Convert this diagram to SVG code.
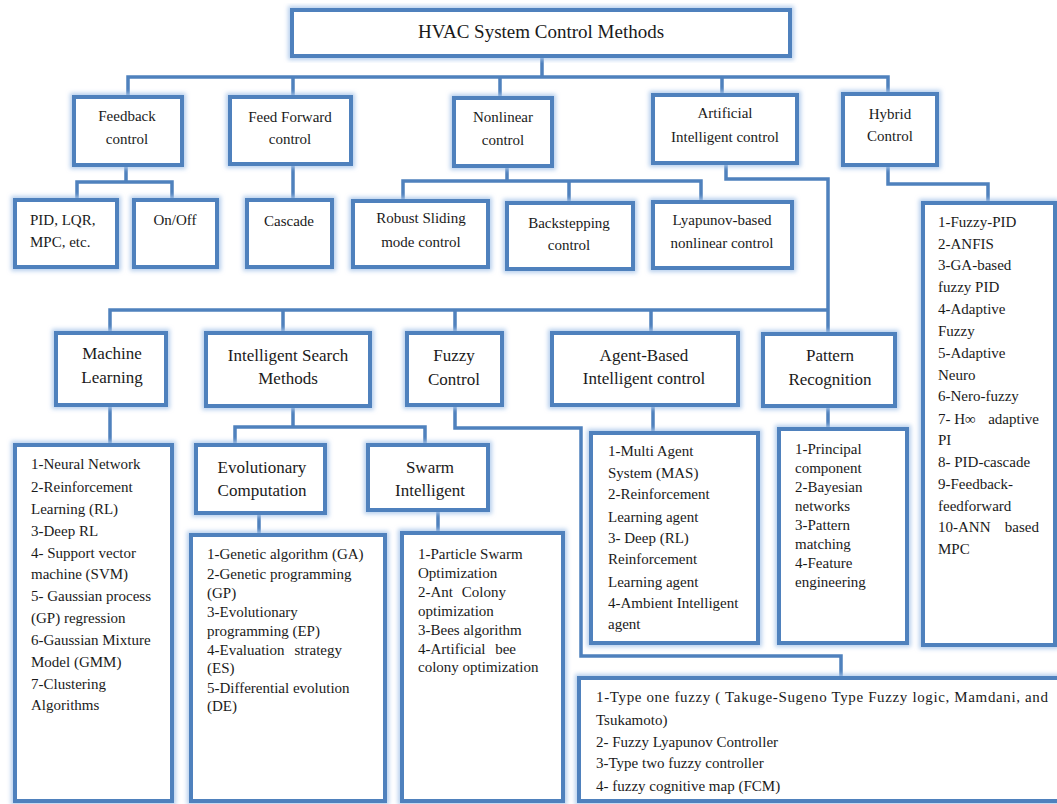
<svg xmlns="http://www.w3.org/2000/svg" width="1057" height="804" viewBox="0 0 1057 804">
<style>
.box{fill:#fff;stroke:#4f81bd;stroke-width:4;filter:url(#glow)}
.ln{fill:none;stroke:#4f81bd;stroke-width:3.5;stroke-linejoin:miter}
text{font-family:"Liberation Serif","Times New Roman",serif;fill:#1a1a1a;dominant-baseline:central}
.c15{font-size:15px;text-anchor:middle}
.c17{font-size:17px;text-anchor:middle}
.l{font-size:15px}
.e{font-size:15px;text-anchor:end}
</style>
<defs>
<filter id="glow" x="-15%" y="-15%" width="130%" height="130%">
<feMorphology in="SourceAlpha" operator="dilate" radius="1.5" result="d"/>
<feGaussianBlur in="d" stdDeviation="2" result="b"/>
<feFlood flood-color="#a9c6ea" flood-opacity="0.85"/>
<feComposite in2="b" operator="in" result="g"/>
<feMerge><feMergeNode in="g"/><feMergeNode in="SourceGraphic"/></feMerge>
</filter>
</defs>
<rect width="1057" height="804" fill="#fff"/>
<g id="connectors">
<path class="ln" d="M542 56V77M128 97V77H888V94M293 77V97M500 77V98M722 77V95"/>
<path class="ln" d="M126 165V182M77 200V182H172V200"/>
<path class="ln" d="M293 165V200"/>
<path class="ln" d="M507 166V181M403 201V181H701V202M569 181V203"/>
<path class="ln" d="M726 163V179H828V334"/>
<path class="ln" d="M888 165V184H988V203"/>
<path class="ln" d="M110 333V310H828M283 310V333M455 310V333M651 310V333"/>
<path class="ln" d="M110 405V445"/>
<path class="ln" d="M293 406V427M235 445V427H425V445"/>
<path class="ln" d="M259 513V535"/>
<path class="ln" d="M438 510V533"/>
<path class="ln" d="M455 405V428H581V656H841V678"/>
<path class="ln" d="M653 405V433"/>
<path class="ln" d="M828 406V429"/>
</g>
<g id="title"><rect class="box" x="292" y="10" width="498" height="46"/><text x="541" y="31" style="font-size:19px;text-anchor:middle">HVAC System Control Methods</text></g>
<g id="feedback"><rect class="box" x="74" y="97" width="108" height="68"/><text class="c15" x="127" y="116">Feedback</text><text class="c15" x="127" y="139">control</text></g>
<g id="feedforward"><rect class="box" x="230" y="97" width="121" height="67"/><text class="c15" x="290" y="117">Feed Forward</text><text class="c15" x="290" y="139">control</text></g>
<g id="nonlinear"><rect class="box" x="454" y="98" width="98" height="68"/><text class="c15" x="503" y="117">Nonlinear</text><text class="c15" x="503" y="140">control</text></g>
<g id="artificial"><rect class="box" x="653" y="95" width="144" height="68"/><text class="c15" x="725" y="113">Artificial</text><text class="c15" x="725" y="137">Intelligent control</text></g>
<g id="hybrid"><rect class="box" x="843" y="94" width="94" height="71"/><text class="c15" x="890" y="114">Hybrid</text><text class="c15" x="890" y="136">Control</text></g>
<g id="pid"><rect class="box" x="15" y="200" width="102" height="67"/><text class="l" x="30" y="220">PID, LQR,</text><text class="l" x="30" y="242">MPC, etc.</text></g>
<g id="onoff"><rect class="box" x="134" y="200" width="83" height="67"/><text class="c15" x="175" y="220">On/Off</text></g>
<g id="cascade"><rect class="box" x="247" y="200" width="85" height="67"/><text class="c15" x="289" y="221">Cascade</text></g>
<g id="robust"><rect class="box" x="353" y="201" width="135" height="66"/><text class="c15" x="421" y="218">Robust Sliding</text><text class="c15" x="421" y="242">mode control</text></g>
<g id="backstepping"><rect class="box" x="507" y="203" width="126" height="66"/><text class="c15" x="569" y="223">Backstepping</text><text class="c15" x="569" y="245">control</text></g>
<g id="lyapunov"><rect class="box" x="653" y="202" width="139" height="66"/><text class="c15" x="722" y="220">Lyapunov-based</text><text class="c15" x="722" y="243">nonlinear control</text></g>
<g id="hybrid-list"><rect class="box" x="923" y="203" width="132" height="442"/>
<text class="l" x="938" y="222">1-Fuzzy-PID</text>
<text class="l" x="938" y="244">2-ANFIS</text>
<text class="l" x="938" y="265">3-GA-based</text>
<text class="l" x="938" y="287">fuzzy PID</text>
<text class="l" x="938" y="309">4-Adaptive</text>
<text class="l" x="938" y="331">Fuzzy</text>
<text class="l" x="938" y="353">5-Adaptive</text>
<text class="l" x="938" y="375">Neuro</text>
<text class="l" x="938" y="396">6-Nero-fuzzy</text>
<text class="l" x="938" y="419">7- H∞</text><text class="e" x="1039" y="419">adaptive</text>
<text class="l" x="938" y="440">PI</text>
<text class="l" x="938" y="462">8- PID-cascade</text>
<text class="l" x="938" y="484">9-Feedback-</text>
<text class="l" x="938" y="506">feedforward</text>
<text class="l" x="938" y="527">10-ANN</text><text class="e" x="1039" y="527">based</text>
<text class="l" x="938" y="549">MPC</text>
</g>
<g id="ml"><rect class="box" x="56" y="333" width="110" height="72"/><text class="c17" x="112" y="353">Machine</text><text class="c17" x="112" y="377">Learning</text></g>
<g id="ism"><rect class="box" x="206" y="333" width="164" height="73"/><text class="c17" x="288" y="355">Intelligent Search</text><text class="c17" x="288" y="378">Methods</text></g>
<g id="fuzzy"><rect class="box" x="407" y="333" width="95" height="72"/><text class="c17" x="454" y="355">Fuzzy</text><text class="c17" x="454" y="379">Control</text></g>
<g id="agent"><rect class="box" x="552" y="333" width="186" height="72"/><text class="c17" x="644" y="355">Agent-Based</text><text class="c17" x="644" y="378">Intelligent control</text></g>
<g id="pattern"><rect class="box" x="763" y="334" width="132" height="72"/><text class="c17" x="830" y="355">Pattern</text><text class="c17" x="830" y="379">Recognition</text></g>
<g id="ml-list"><rect class="box" x="15" y="445" width="157" height="356"/>
<text class="l" x="31" y="464">1-Neural Network</text>
<text class="l" x="31" y="487">2-Reinforcement</text>
<text class="l" x="31" y="509">Learning (RL)</text>
<text class="l" x="31" y="531">3-Deep RL</text>
<text class="l" x="31" y="553">4- Support vector</text>
<text class="l" x="31" y="574">machine (SVM)</text>
<text class="l" x="31" y="596">5- Gaussian process</text>
<text class="l" x="31" y="618">(GP) regression</text>
<text class="l" x="31" y="640">6-Gaussian Mixture</text>
<text class="l" x="31" y="662">Model (GMM)</text>
<text class="l" x="31" y="684">7-Clustering</text>
<text class="l" x="31" y="705">Algorithms</text>
</g>
<g id="evolutionary"><rect class="box" x="196" y="445" width="129" height="68"/><text class="c17" x="262" y="467">Evolutionary</text><text class="c17" x="262" y="490">Computation</text></g>
<g id="swarm"><rect class="box" x="368" y="445" width="120" height="65"/><text class="c17" x="430" y="467">Swarm</text><text class="c17" x="430" y="490">Intelligent</text></g>
<g id="evo-list"><rect class="box" x="191" y="535" width="194" height="266"/>
<text class="l" x="207" y="554">1-Genetic algorithm (GA)</text>
<text class="l" x="207" y="574">2-Genetic programming</text>
<text class="l" x="207" y="593">(GP)</text>
<text class="l" x="207" y="612">3-Evolutionary</text>
<text class="l" x="207" y="631">programming (EP)</text>
<text class="l" x="207" y="650">4-Evaluation</text><text class="e" x="342" y="650">strategy</text>
<text class="l" x="207" y="668">(ES)</text>
<text class="l" x="207" y="688">5-Differential evolution</text>
<text class="l" x="207" y="706">(DE)</text>
</g>
<g id="swarm-list"><rect class="box" x="402" y="533" width="161" height="268"/>
<text class="l" x="418" y="554">1-Particle Swarm</text>
<text class="l" x="418" y="573">Optimization</text>
<text class="l" x="418" y="592">2-Ant</text><text class="e" x="506" y="592">Colony</text>
<text class="l" x="418" y="611">optimization</text>
<text class="l" x="418" y="630">3-Bees algorithm</text>
<text class="l" x="418" y="649">4-Artificial</text><text class="e" x="516" y="649">bee</text>
<text class="l" x="418" y="667">colony optimization</text>
</g>
<g id="agent-list"><rect class="box" x="591" y="433" width="167" height="210"/>
<text class="l" x="608" y="451">1-Multi Agent</text>
<text class="l" x="608" y="473">System (MAS)</text>
<text class="l" x="608" y="494">2-Reinforcement</text>
<text class="l" x="608" y="517">Learning agent</text>
<text class="l" x="608" y="538">3- Deep (RL)</text>
<text class="l" x="608" y="559">Reinforcement</text>
<text class="l" x="608" y="582">Learning agent</text>
<text class="l" x="608" y="603">4-Ambient Intelligent</text>
<text class="l" x="608" y="624">agent</text>
</g>
<g id="pattern-list"><rect class="box" x="779" y="429" width="128" height="214"/>
<text class="l" x="795" y="449">1-Principal</text>
<text class="l" x="795" y="468">component</text>
<text class="l" x="795" y="487">2-Bayesian</text>
<text class="l" x="795" y="506">networks</text>
<text class="l" x="795" y="525">3-Pattern</text>
<text class="l" x="795" y="544">matching</text>
<text class="l" x="795" y="563">4-Feature</text>
<text class="l" x="795" y="582">engineering</text>
</g>
<g id="fuzzy-list"><rect class="box" x="579" y="678" width="490" height="123"/>
<text class="l" x="596" y="697" textLength="452" lengthAdjust="spacing">1-Type one fuzzy ( Takuge-Sugeno Type Fuzzy logic, Mamdani, and</text>
<text class="l" x="596" y="720">Tsukamoto)</text>
<text class="l" x="596" y="742">2- Fuzzy Lyapunov Controller</text>
<text class="l" x="596" y="763">3-Type two fuzzy controller</text>
<text class="l" x="596" y="786">4- fuzzy cognitive map (FCM)</text>
</g>
</svg>
